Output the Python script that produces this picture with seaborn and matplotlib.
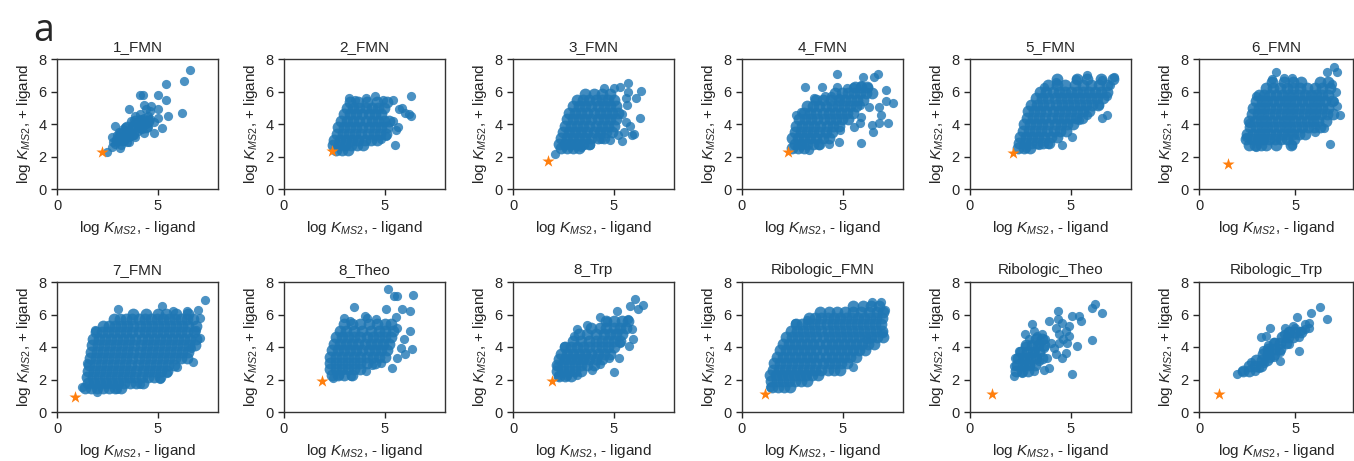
import pandas as pd
import matplotlib
matplotlib.use('Agg')
import matplotlib.pyplot as plt
import seaborn as sns

# panel titles and the reference construct (orange star) per panel
titles = ['1_FMN', '2_FMN', '3_FMN', '4_FMN', '5_FMN', '6_FMN',
          '7_FMN', '8_Theo', '8_Trp', 'Ribologic_FMN', 'Ribologic_Theo', 'Ribologic_Trp']
star_x = [2.25, 2.37, 1.72, 2.3, 2.14, 1.53, 0.9, 1.9, 1.92, 1.12, 1.08, 1.04]
star_y = [2.3, 2.35, 1.74, 2.3, 2.2, 1.56, 0.93, 1.93, 1.88, 1.1, 1.12, 1.12]

# dense cores as rows (y, [x...]), sparse points as (x, y)
fmn1_rows = [(3.0, [3.0, 3.3]),
             (3.4, [3.2, 3.5, 3.8]),
             (3.8, [3.5, 3.8, 4.1, 4.4]),
             (4.2, [3.9, 4.2, 4.5])]
fmn1_pts = [(6.6, 7.3), (6.3, 6.65), (5.4, 6.45), (5.4, 5.5), (5.0, 5.8), (4.1, 5.8), (4.25, 5.8),
            (6.2, 4.7), (5.5, 4.5), (4.3, 5.2), (4.67, 5.1), (3.6, 4.9), (5.0, 4.9), (5.0, 4.4),
            (5.2, 3.75), (4.8, 3.45), (4.3, 3.45), (2.9, 3.85), (2.5, 2.3), (2.75, 2.6), (2.75, 3.2),
            (3.15, 2.5), (3.6, 2.9), (3.0, 3.0), (3.2, 3.2), (3.4, 3.4), (3.3, 3.0), (3.5, 3.6),
            (3.7, 3.5), (3.8, 3.8), (3.9, 4.1), (4.0, 3.9), (4.2, 4.2), (4.3, 4.4), (4.1, 4.6),
            (4.4, 4.0), (4.6, 4.3), (4.5, 3.8), (3.6, 3.2), (3.8, 3.3), (3.1, 3.5), (3.4, 3.8),
            (3.9, 4.5), (4.4, 4.9), (4.6, 4.8), (4.0, 3.6), (3.5, 2.9), (2.9, 2.8), (3.2, 2.7),
            (3.0, 3.3), (2.8, 2.9), (3.7, 4.2), (4.2, 3.7), (4.5, 4.5), (4.8, 4.1), (3.3, 3.7),
            (3.9, 3.2), (4.1, 4.3)]

fmn2_rows = [(2.4, [2.6, 2.9, 3.2]),
             (2.7, [2.45, 2.75, 3.05, 3.35, 3.65, 3.95]),
             (3.0, [2.5, 2.8, 3.1, 3.4, 3.7, 4.0, 4.3, 4.6]),
             (3.4, [2.65, 2.95, 3.25, 3.55, 3.85, 4.15, 4.45, 4.75, 5.05]),
             (3.8, [2.7, 3.0, 3.3, 3.6, 3.9, 4.2, 4.5, 4.8, 5.1]),
             (4.2, [2.85, 3.15, 3.45, 3.75, 4.05, 4.35, 4.65, 4.95, 5.2]),
             (4.6, [3.0, 3.3, 3.6, 3.9, 4.2, 4.5, 4.8]),
             (5.0, [3.15, 3.45, 3.75, 4.05, 4.35, 4.65, 4.95]),
             (5.35, [3.3, 3.7, 4.1, 4.6, 5.1])]
fmn2_pts = [(3.25, 5.6), (3.55, 5.5), (4.05, 5.6), (4.5, 5.7), (4.9, 5.5), (5.4, 5.45), (6.3, 5.7),
            (5.85, 5.0), (6.2, 4.6), (6.3, 4.5), (5.55, 3.65), (5.65, 3.8), (5.5, 2.7), (5.05, 3.25),
            (4.8, 3.05), (5.4, 4.2), (5.7, 4.9), (6.0, 4.7)]

fmn3_rows = [(2.5, [2.4, 2.7, 3.0, 3.3]),
             (2.8, [2.3, 2.6, 2.9, 3.2, 3.5, 3.8]),
             (3.15, [2.4, 2.7, 3.0, 3.3, 3.6, 3.9, 4.2, 4.5]),
             (3.5, [2.5, 2.8, 3.1, 3.4, 3.7, 4.0, 4.3, 4.6, 4.9]),
             (3.9, [2.6, 2.9, 3.2, 3.5, 3.8, 4.1, 4.4, 4.7, 5.0]),
             (4.3, [2.7, 3.0, 3.3, 3.6, 3.9, 4.2, 4.5, 4.8, 5.1]),
             (4.7, [2.8, 3.1, 3.4, 3.7, 4.0, 4.3, 4.6, 4.9, 5.2]),
             (5.1, [3.0, 3.3, 3.6, 3.9, 4.2, 4.5, 4.8, 5.1]),
             (5.5, [3.2, 3.5, 3.8, 4.1, 4.4, 4.7, 5.0]),
             (5.85, [3.6, 4.0, 4.4, 4.8])]
fmn3_pts = [(2.08, 2.13), (4.5, 6.2), (5.0, 6.2), (5.33, 6.3), (5.7, 6.5), (5.7, 6.0), (6.35, 6.05),
            (6.1, 5.6), (5.66, 5.2), (6.3, 4.4), (5.8, 3.85), (5.9, 3.3), (5.4, 2.95), (4.84, 3.0),
            (4.35, 3.1), (3.85, 2.7), (3.36, 2.6), (5.5, 3.5), (5.6, 4.1), (5.4, 4.6), (5.6, 5.6),
            (6.0, 3.4), (5.2, 3.3)]

fmn4_rows = [(2.5, [2.5, 2.8, 3.1]),
             (2.8, [2.65, 2.95, 3.25, 3.55, 3.85]),
             (3.15, [2.5, 2.8, 3.1, 3.4, 3.7, 4.0, 4.3]),
             (3.5, [2.65, 2.95, 3.25, 3.55, 3.85, 4.15, 4.45]),
             (3.9, [2.7, 3.0, 3.3, 3.6, 3.9, 4.2, 4.5, 4.8]),
             (4.3, [2.85, 3.15, 3.45, 3.75, 4.05, 4.35, 4.65, 4.95, 5.25]),
             (4.7, [3.1, 3.4, 3.7, 4.0, 4.3, 4.6, 4.9, 5.2, 5.5]),
             (5.1, [3.25, 3.55, 3.85, 4.15, 4.45, 4.75, 5.05, 5.35, 5.65]),
             (5.5, [3.7, 4.0, 4.4, 4.8, 5.1, 5.4, 5.7, 6.0]),
             (5.9, [4.6, 4.95, 5.25, 5.55, 5.85, 6.15, 6.45]),
             (6.3, [5.6, 5.9, 6.2])]
fmn4_pts = [(4.72, 7.08), (6.77, 7.1), (6.57, 6.9), (6.0, 6.9), (3.15, 6.26), (3.96, 6.3), (4.72, 6.3),
            (5.2, 6.2), (5.5, 6.26), (5.9, 6.4), (6.24, 6.3), (7.15, 6.1), (7.48, 5.28), (7.15, 5.4),
            (6.8, 5.07), (6.29, 5.07), (5.88, 5.17), (5.9, 4.45), (6.9, 4.55), (7.24, 4.04),
            (6.82, 4.04), (6.46, 3.94), (6.5, 3.53), (5.88, 4.04), (5.57, 3.84), (4.88, 3.63),
            (4.83, 2.9), (5.91, 2.86), (4.34, 2.8), (3.84, 2.7), (3.35, 2.4), (2.68, 4.55),
            (2.93, 4.76), (3.6, 5.6), (4.1, 5.7), (4.42, 5.7), (4.83, 5.6)]

fmn5_rows = [(2.5, [2.4, 2.7, 3.0]),
             (2.85, [2.45, 2.75, 3.05, 3.35, 3.65, 3.95]),
             (3.2, [2.5, 2.8, 3.1, 3.4, 3.7, 4.0, 4.3]),
             (3.6, [2.65, 2.95, 3.25, 3.55, 3.85, 4.15, 4.45, 4.75]),
             (4.0, [2.7, 3.0, 3.3, 3.6, 3.9, 4.2, 4.5, 4.8, 5.1]),
             (4.4, [2.85, 3.15, 3.45, 3.75, 4.05, 4.35, 4.65, 4.95, 5.25, 5.55]),
             (4.8, [2.9, 3.2, 3.5, 3.8, 4.1, 4.4, 4.7, 5.0, 5.3, 5.6, 5.9]),
             (5.2, [3.05, 3.35, 3.65, 3.95, 4.25, 4.55, 4.85, 5.15, 5.45, 5.75, 6.05, 6.35]),
             (5.6, [3.3, 3.6, 3.9, 4.2, 4.5, 4.8, 5.1, 5.4, 5.7, 6.0, 6.3, 6.6]),
             (6.0, [3.5, 3.8, 4.1, 4.4, 4.7, 5.0, 5.3, 5.6, 5.9, 6.2, 6.5, 6.8]),
             (6.4, [3.9, 4.3, 4.7, 5.2, 5.6, 6.0, 6.4, 6.8]),
             (6.75, [4.3, 5.3, 5.8, 6.5, 7.1])]
fmn5_pts = [(3.68, 6.3), (4.25, 6.6), (5.25, 6.8), (5.83, 7.0), (6.57, 6.7), (7.15, 6.9), (6.98, 6.4),
            (6.8, 5.7), (6.4, 5.17), (6.82, 4.55), (6.57, 4.35), (5.83, 4.55), (5.4, 4.25),
            (5.08, 3.22), (4.58, 2.7), (3.9, 2.8), (3.43, 2.7), (2.76, 2.5)]

fmn6_rows = [(2.7, [2.6, 2.9, 3.2, 3.5, 4.0, 4.8]),
             (3.05, [2.45, 2.75, 3.05, 3.35, 3.65, 3.95, 4.25, 4.55, 4.95]),
             (3.4, [2.5, 2.8, 3.1, 3.4, 3.7, 4.0, 4.3, 4.6, 4.9, 5.2, 5.5]),
             (3.8, [2.65, 2.95, 3.25, 3.55, 3.85, 4.15, 4.45, 4.75, 5.05, 5.35, 5.65, 5.95, 6.3]),
             (4.2, [2.6, 2.9, 3.2, 3.5, 3.8, 4.1, 4.4, 4.7, 5.0, 5.3, 5.6, 5.9, 6.2, 6.6]),
             (4.6, [2.75, 3.05, 3.35, 3.65, 3.95, 4.25, 4.55, 4.85, 5.15, 5.45, 5.75, 6.05, 6.35, 6.65, 6.95]),
             (5.0, [2.8, 3.1, 3.4, 3.7, 4.0, 4.3, 4.6, 4.9, 5.2, 5.5, 5.8, 6.1, 6.4, 6.7]),
             (5.4, [2.95, 3.25, 3.55, 3.85, 4.15, 4.45, 4.75, 5.05, 5.35, 5.65, 5.95, 6.25, 6.55, 6.9]),
             (5.8, [3.1, 3.4, 3.7, 4.0, 4.3, 4.6, 4.9, 5.2, 5.5, 5.8, 6.1, 6.4, 6.7]),
             (6.2, [3.5, 3.85, 4.2, 4.55, 4.9, 5.25, 5.6, 6.0, 6.4, 6.8]),
             (6.6, [3.8, 4.4, 4.9, 5.3, 6.3, 6.7])]
fmn6_pts = [(2.44, 3.22), (2.6, 4.05), (2.94, 5.7), (3.8, 6.75), (4.0, 7.17), (4.42, 6.86),
            (4.83, 6.86), (6.65, 7.17), (7.0, 7.5), (7.15, 7.17), (6.9, 6.45), (7.0, 5.4),
            (7.15, 5.1), (7.3, 4.57), (6.82, 2.8), (6.5, 3.74), (6.0, 3.53), (4.83, 2.7),
            (2.94, 2.6), (7.1, 6.0)]

fmn7_rows = [(1.45, [1.4, 1.7, 2.0, 2.3, 2.6, 2.9, 3.2]),
             (1.8, [1.55, 1.85, 2.15, 2.45, 2.75, 3.05, 3.35, 3.65, 3.95, 4.25]),
             (2.15, [1.5, 1.8, 2.1, 2.4, 2.7, 3.0, 3.3, 3.6, 3.9, 4.2, 4.5, 4.8, 5.1]),
             (2.5, [1.55, 1.85, 2.15, 2.45, 2.75, 3.05, 3.35, 3.65, 3.95, 4.25, 4.55, 4.85, 5.15, 5.45]),
             (2.9, [1.6, 1.9, 2.2, 2.5, 2.8, 3.1, 3.4, 3.7, 4.0, 4.3, 4.6, 4.9, 5.2, 5.5, 5.8]),
             (3.3, [1.65, 1.95, 2.25, 2.55, 2.85, 3.15, 3.45, 3.75, 4.05, 4.35, 4.65, 4.95, 5.25, 5.55,
                    5.85, 6.15, 6.45]),
             (3.7, [1.7, 2.0, 2.3, 2.6, 2.9, 3.2, 3.5, 3.8, 4.1, 4.4, 4.7, 5.0, 5.3, 5.6, 5.9, 6.2, 6.5]),
             (4.1, [1.75, 2.05, 2.35, 2.65, 2.95, 3.25, 3.55, 3.85, 4.15, 4.45, 4.75, 5.05, 5.35, 5.65,
                    5.95, 6.25, 6.55, 6.85]),
             (4.5, [1.8, 2.1, 2.4, 2.7, 3.0, 3.3, 3.6, 3.9, 4.2, 4.5, 4.8, 5.1, 5.4, 5.7, 6.0, 6.3, 6.6, 6.9]),
             (4.9, [1.95, 2.25, 2.55, 2.85, 3.15, 3.45, 3.75, 4.05, 4.35, 4.65, 4.95, 5.25, 5.55, 5.85,
                    6.15, 6.45, 6.8]),
             (5.3, [2.3, 2.6, 2.9, 3.2, 3.5, 3.8, 4.1, 4.4, 4.7, 5.0, 5.3, 5.6, 5.9, 6.2, 6.5, 6.9]),
             (5.7, [2.85, 3.15, 3.45, 3.75, 4.05, 4.35, 4.65, 4.95, 5.25, 5.55, 5.85, 6.15, 6.45, 6.75]),
             (6.05, [3.8, 4.4, 5.0, 5.4, 5.9, 6.5])]
fmn7_pts = [(3.05, 6.35), (5.2, 6.5), (5.78, 6.19), (6.44, 6.19), (7.0, 6.29), (7.34, 6.9),
            (7.1, 5.77), (6.93, 5.05), (7.1, 4.54), (6.68, 3.92), (6.77, 3.1), (5.94, 2.78),
            (5.45, 2.37), (5.12, 2.06), (4.13, 1.75), (2.97, 1.44), (1.98, 1.24), (1.24, 1.55),
            (1.49, 3.0), (1.9, 5.05)]

theo8_rows = [(2.3, [2.4, 2.7, 3.0, 3.4]),
              (2.65, [2.3, 2.6, 2.9, 3.2, 3.5, 3.8]),
              (3.0, [2.3, 2.6, 2.9, 3.2, 3.5, 3.8, 4.1, 4.5]),
              (3.4, [2.3, 2.6, 2.9, 3.2, 3.5, 3.8, 4.1, 4.4, 4.7, 5.0]),
              (3.8, [2.4, 2.7, 3.0, 3.3, 3.6, 3.9, 4.2, 4.5, 4.8, 5.1]),
              (4.2, [2.5, 2.8, 3.1, 3.4, 3.7, 4.0, 4.3, 4.6, 4.9, 5.2]),
              (4.6, [2.6, 2.9, 3.2, 3.5, 3.8, 4.1, 4.4, 4.7, 5.0, 5.3]),
              (5.0, [2.8, 3.1, 3.5, 3.9, 4.3, 4.7, 5.0, 5.4]),
              (5.4, [3.0, 3.4, 3.8, 4.2, 4.6, 5.0, 5.3])]
theo8_pts = [(5.18, 7.54), (5.46, 7.16), (5.62, 7.16), (6.39, 7.2), (3.49, 6.48), (5.05, 6.34),
             (5.87, 6.34), (6.28, 6.23), (5.57, 5.83), (3.0, 5.8), (4.0, 5.92), (4.56, 5.71),
             (6.28, 4.99), (5.95, 4.47), (6.36, 3.85), (6.03, 3.54), (5.79, 3.95), (5.62, 3.33),
             (5.38, 2.71), (4.8, 3.02), (4.39, 2.92), (4.07, 2.5), (3.33, 2.19), (2.75, 2.3),
             (2.43, 2.09), (4.1, 5.8), (3.3, 5.6), (5.6, 5.2)]

trp8_rows = [(2.2, [2.3, 2.6, 2.9]),
             (2.55, [2.2, 2.5, 2.8, 3.1, 3.4]),
             (2.9, [2.2, 2.5, 2.8, 3.1, 3.4, 3.7, 4.0]),
             (3.25, [2.3, 2.6, 2.9, 3.2, 3.5, 3.8, 4.1, 4.4]),
             (3.6, [2.4, 2.7, 3.0, 3.3, 3.6, 3.9, 4.2, 4.5, 4.8]),
             (4.0, [2.6, 2.9, 3.2, 3.5, 3.8, 4.1, 4.4, 4.7, 5.0]),
             (4.4, [3.0, 3.4, 3.8, 4.1, 4.4, 4.7, 5.0, 5.3]),
             (4.8, [3.3, 3.7, 4.1, 4.5, 4.8, 5.1, 5.4]),
             (5.2, [3.9, 4.3, 4.6, 5.0, 5.3, 5.6]),
             (5.6, [4.6, 5.0, 5.4, 5.7])]
trp8_pts = [(6.07, 6.96), (6.48, 6.6), (6.23, 6.33), (5.82, 6.54), (5.16, 6.19), (5.69, 5.71),
            (4.34, 5.82), (4.67, 5.61), (3.2, 5.13), (3.69, 5.34), (3.03, 4.68), (5.9, 5.09),
            (5.98, 4.47), (5.74, 4.06), (5.33, 4.27), (5.25, 3.33), (4.75, 3.33), (5.0, 2.46),
            (4.34, 2.98), (3.93, 2.61), (3.2, 2.3), (2.7, 2.19), (2.25, 2.19), (2.21, 2.82),
            (2.54, 4.06)]

ribo_fmn_rows = [(1.55, [1.5, 1.8, 2.1, 2.4]),
                 (1.9, [1.45, 1.75, 2.05, 2.35, 2.65, 2.95, 3.25]),
                 (2.25, [1.4, 1.7, 2.0, 2.3, 2.6, 2.9, 3.2, 3.5, 3.8]),
                 (2.6, [1.55, 1.85, 2.15, 2.45, 2.75, 3.05, 3.35, 3.65, 3.95, 4.25, 4.55, 4.85]),
                 (3.0, [1.6, 1.9, 2.2, 2.5, 2.8, 3.1, 3.4, 3.7, 4.0, 4.3, 4.6, 4.9, 5.2]),
                 (3.4, [1.75, 2.05, 2.35, 2.65, 2.95, 3.25, 3.55, 3.85, 4.15, 4.45, 4.75, 5.05, 5.35, 5.65]),
                 (3.8, [1.9, 2.2, 2.5, 2.8, 3.1, 3.4, 3.7, 4.0, 4.3, 4.6, 4.9, 5.2, 5.5, 5.8, 6.1]),
                 (4.2, [2.05, 2.35, 2.65, 2.95, 3.25, 3.55, 3.85, 4.15, 4.45, 4.75, 5.05, 5.35, 5.65, 5.95,
                        6.25, 6.55]),
                 (4.6, [2.2, 2.5, 2.8, 3.1, 3.4, 3.7, 4.0, 4.3, 4.6, 4.9, 5.2, 5.5, 5.8, 6.1, 6.4, 6.7, 7.0]),
                 (5.0, [2.45, 2.75, 3.05, 3.35, 3.65, 3.95, 4.25, 4.55, 4.85, 5.15, 5.45, 5.75, 6.05, 6.35,
                        6.65, 6.95]),
                 (5.4, [2.7, 3.0, 3.3, 3.6, 3.9, 4.2, 4.5, 4.8, 5.1, 5.4, 5.7, 6.0, 6.3, 6.6, 6.9]),
                 (5.8, [3.35, 3.65, 3.95, 4.25, 4.55, 4.85, 5.15, 5.45, 5.75, 6.05, 6.35, 6.65, 6.95]),
                 (6.15, [3.9, 4.3, 4.7, 5.1, 5.5, 5.9, 6.3, 6.7, 7.0]),
                 (6.5, [5.5, 6.0, 6.4, 6.8])]
ribo_fmn_pts = [(6.44, 6.8), (6.93, 6.8), (7.1, 6.3), (7.0, 4.86), (6.19, 4.48), (5.5, 2.8),
                (1.4, 1.55), (2.64, 5.47), (3.22, 5.68)]

ribo_theo_rows = [(2.5, [2.3, 2.6, 2.9]),
                  (2.9, [2.35, 2.65, 2.95, 3.25]),
                  (3.3, [2.4, 2.7, 3.0, 3.3, 3.6]),
                  (3.7, [2.55, 2.85, 3.15, 3.45]),
                  (4.1, [2.8, 3.1, 3.4, 3.7]),
                  (4.5, [3.3, 3.6])]
ribo_theo_pts = [(6.22, 6.65), (6.08, 6.4), (6.55, 6.07), (4.37, 6.23), (3.95, 5.61), (4.37, 5.71),
                 (4.58, 5.5), (5.08, 5.92), (5.42, 5.88), (5.5, 5.57), (3.08, 5.4), (3.17, 4.99),
                 (2.75, 4.78), (4.25, 5.2), (4.75, 4.99), (4.42, 4.78), (4.92, 4.68), (4.83, 4.27),
                 (5.33, 4.06), (6.08, 4.43), (4.75, 3.64), (4.58, 3.33), (4.25, 3.54), (3.83, 3.33),
                 (3.92, 2.71), (3.67, 2.61), (5.05, 2.34), (3.17, 2.5), (2.17, 2.82), (2.17, 2.24),
                 (2.58, 2.4), (2.25, 3.33), (2.42, 3.75), (2.75, 4.06), (2.92, 4.47), (3.33, 4.68),
                 (3.58, 4.78), (3.75, 4.47), (3.42, 4.16), (3.25, 3.75), (2.92, 3.43), (2.58, 3.23),
                 (2.67, 2.82), (3.0, 2.92), (3.42, 3.13), (3.67, 3.95), (4.0, 4.27), (4.42, 4.27),
                 (4.17, 3.95), (4.9, 5.3), (4.6, 4.5)]

ribo_trp_rows = [(2.5, [2.3, 2.6]),
                 (2.85, [2.6, 2.9, 3.2]),
                 (3.2, [2.95, 3.25, 3.55]),
                 (3.55, [3.3, 3.6, 3.9]),
                 (3.9, [3.6, 3.9, 4.2]),
                 (4.25, [3.9, 4.2, 4.5]),
                 (4.6, [4.3, 4.6, 4.9]),
                 (4.95, [4.7, 5.0, 5.3])]
ribo_trp_pts = [(6.29, 6.48), (5.83, 6.07), (6.67, 5.71), (5.1, 5.82), (5.71, 5.5), (3.69, 5.2),
                (4.47, 5.2), (5.22, 3.75), (3.23, 4.64), (3.48, 4.68), (4.22, 3.13), (1.99, 2.36),
                (2.24, 2.5), (3.4, 3.0), (3.7, 3.3), (3.6, 3.8), (5.3, 5.0), (5.5, 5.1), (5.7, 5.2),
                (4.4, 4.8), (4.7, 5.0), (5.0, 5.2), (3.9, 4.3), (3.3, 3.8), (2.7, 3.1), (3.1, 2.7),
                (3.9, 3.4), (4.2, 3.7), (4.7, 4.2), (5.2, 4.6), (5.5, 5.4), (4.9, 5.3), (3.6, 4.1),
                (2.9, 2.5)]

panel_rows = [fmn1_rows, fmn2_rows, fmn3_rows, fmn4_rows, fmn5_rows, fmn6_rows,
              fmn7_rows, theo8_rows, trp8_rows, ribo_fmn_rows, ribo_theo_rows, ribo_trp_rows]
panel_pts = [fmn1_pts, fmn2_pts, fmn3_pts, fmn4_pts, fmn5_pts, fmn6_pts,
             fmn7_pts, theo8_pts, trp8_pts, ribo_fmn_pts, ribo_theo_pts, ribo_trp_pts]

# core points (many overlapping variants) vs. single scattered variants
records = []
for title, rows, pts in zip(titles, panel_rows, panel_pts):
    for yv, xs in rows:
        for xv in xs:
            records.append((title, xv, yv, 'core'))
    for xv, yv in pts:
        records.append((title, xv, yv, 'single'))
df = pd.DataFrame(records, columns=['construct', 'minus', 'plus', 'kind'])
stars = pd.DataFrame({'construct': titles, 'minus': star_x, 'plus': star_y})

sns.set_style('ticks')
plt.rcParams['font.family'] = ['Liberation Sans', 'DejaVu Sans']
plt.rcParams['mathtext.fontset'] = 'custom'
plt.rcParams['mathtext.rm'] = 'Liberation Sans'
plt.rcParams['mathtext.it'] = 'Liberation Sans:italic'

W, H = 1354, 461
fig = plt.figure(figsize=(W / 100, H / 100), dpi=100)
lefts = [57, 284, 513, 742, 970, 1199]
tops = [59, 282]

for i, title in enumerate(titles):
    r, c = divmod(i, 6)
    w = 161 if c < 5 else 154
    ax = fig.add_axes([lefts[c] / W, 1 - (tops[r] + 130) / H, w / W, 130 / H])
    sub = df[df['construct'] == title]
    core = sub[sub['kind'] == 'core']
    single = sub[sub['kind'] == 'single']
    if len(core):
        sns.scatterplot(data=core, x='minus', y='plus', ax=ax, color='#1f77b4',
                        alpha=0.85, s=72, linewidth=0)
    sns.scatterplot(data=single, x='minus', y='plus', ax=ax, color='#1f77b4',
                    alpha=0.8, s=44, linewidth=0)
    st = stars[stars['construct'] == title]
    sns.scatterplot(data=st, x='minus', y='plus', ax=ax, color='#ff7f0e',
                    marker='*', s=85, linewidth=0, zorder=5)
    ax.set_xlim(0, 8)
    ax.set_ylim(0, 8)
    ax.set_xticks([0, 5])
    ax.set_yticks([0, 2, 4, 6, 8])
    ax.tick_params(labelsize=10.5, length=4, width=1, colors='.15')
    for sp in ax.spines.values():
        sp.set_linewidth(1)
        sp.set_color('.2')
    ax.set_title(title, fontsize=11, pad=6)
    ax.set_xlabel(r'log $K_{MS2}$, - ligand', fontsize=11)
    ax.set_ylabel(r'log $K_{MS2}$, + ligand', fontsize=11)

fig.text(33 / W, 1 - 41 / H, 'a', fontsize=27, family='Open Sans', va='baseline')

fig.savefig('out.png', dpi=100)
